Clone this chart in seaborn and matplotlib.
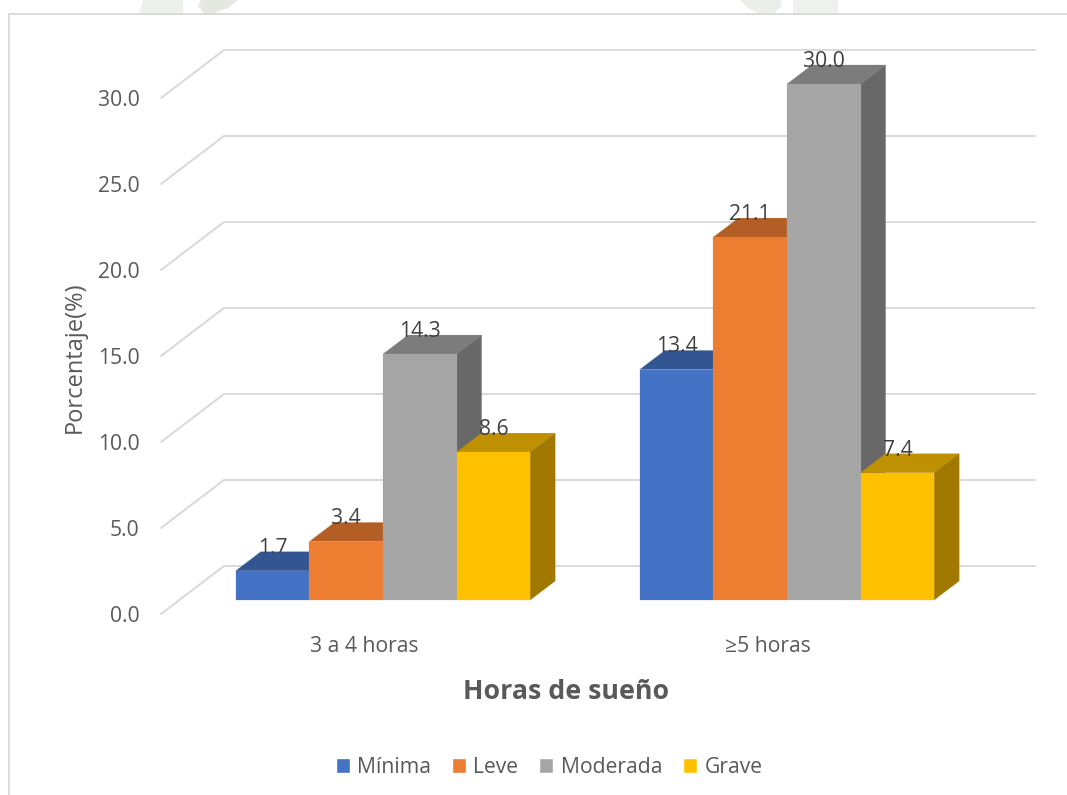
import numpy as np
import pandas as pd
import matplotlib
matplotlib.use("Agg")
import matplotlib.pyplot as plt
from matplotlib.lines import Line2D
from matplotlib.patches import Polygon
from matplotlib.colors import to_rgb
import seaborn as sns

horas = ["3 a 4 horas", "≥5 horas"]
niveles = ["Mínima", "Leve", "Moderada", "Grave"]
minima = [1.7, 13.4]
leve = [3.4, 21.1]
moderada = [14.3, 30.0]
grave = [8.6, 7.4]
yticks = [0, 5, 10, 15, 20, 25, 30]
colores = ["#4472C4", "#ED7D31", "#A5A5A5", "#FFC000"]

df = pd.DataFrame({
    "horas": horas * 4,
    "nivel": [n for n in niveles for _ in horas],
    "pct": minima + leve + moderada + grave,
})

W, H = 1067, 795
sns.set_theme(style="white")
plt.rcParams["font.family"] = ["Open Sans", "DejaVu Sans"]
TXT = "#595959"
GRID = "#D9D9D9"
FS = 15.2

fig = plt.figure(figsize=(W / 100, H / 100), dpi=100, facecolor="white")

def axes_px(left, right, bottom, top):
    return fig.add_axes([left / W, 1 - bottom / H, (right - left) / W, (bottom - top) / H])

# wall axes: carries ticks, category labels and the "3D" gridlines
wall = axes_px(161, 1035, 614, 98)
wall.set_zorder(0)
# bar axes: the front plane of the bars
ax = axes_px(161, 1035, 600, 84)
ax.set_zorder(1)
ax.patch.set_visible(False)

sns.barplot(data=df, x="horas", y="pct", hue="nivel", order=horas, hue_order=niveles,
            palette=colores, saturation=1, width=294.4 / 404, gap=0, dodge=True, ax=ax)
ax.set_xlim((161 - 383) / 404, (1035 - 383) / 404)
ax.set_ylim(0, 30)
ax.set_xlabel("")
ax.set_ylabel("")
ax.set_xticks([])
ax.set_yticks([])
for s in ax.spines.values():
    s.set_visible(False)

# depth of each bar, in data units of the bar axes
dx = 25 / 404
dy = 19 / 17.2

def shade(c, f):
    return tuple(v * f for v in to_rgb(c))

for col, cont in zip(colores, ax.containers):
    for b in cont.patches:
        x0, x1 = b.get_x(), b.get_x() + b.get_width()
        h = b.get_height()
        z = 3 + x0
        b.set_zorder(z + 0.001)
        b.set_edgecolor(col)
        b.set_linewidth(0.15)
        b.set_clip_on(False)
        c_top, c_side = shade(col, 0.75), shade(col, 0.63)
        ax.add_patch(Polygon([(x0, h), (x1, h), (x1 + dx, h + dy), (x0 + dx, h + dy)],
                             closed=True, fc=c_top, ec=c_top, lw=0.15, zorder=z, clip_on=False))
        ax.add_patch(Polygon([(x1, 0), (x1 + dx, dy), (x1 + dx, h + dy), (x1, h)],
                             closed=True, fc=c_side, ec=c_side, lw=0.15, zorder=z, clip_on=False))
    for t in ax.bar_label(cont, fmt="%.1f", padding=8.7, fontsize=FS, color="#404040"):
        t.set_zorder(20)
        t.set_clip_on(False)

# walls
wall.set_xlim((161 - 364) / 404, (1035 - 364) / 404)
wall.set_ylim(0, 30)
back_dx = 63 / 404
back_dy = 48 / 17.2
xl = wall.get_xlim()
for v in yticks:
    wall.plot([xl[0], xl[0] + back_dx, xl[1]], [v, v + back_dy, v + back_dy],
              color=GRID, lw=1.4, clip_on=False, solid_joinstyle="miter", zorder=1)
wall.set_yticks(yticks, [f"{v:.1f}" for v in yticks])
wall.set_xticks([0, 1], horas)
wall.tick_params(axis="y", length=0, pad=15.5, labelsize=FS, labelcolor=TXT)
wall.tick_params(axis="x", length=0, pad=16, labelsize=FS, labelcolor=TXT)
for s in wall.spines.values():
    s.set_visible(False)
wall.patch.set_visible(False)
wall.set_xlabel("Horas de sueño", fontsize=19.25, fontweight="bold", color=TXT)
wall.xaxis.set_label_coords((566 - 161) / (1035 - 161), -(692 - 614) / (614 - 98), transform=wall.transAxes)
wall.xaxis.label.set_va("center")
wall.set_ylabel("Porcentaje(%)", fontsize=17, color=TXT)
wall.yaxis.set_label_coords((75 - 161) / (1035 - 161), (614 - 357) / (614 - 98), transform=wall.transAxes)
wall.yaxis.label.set_va("center")

# legend
handles, labels = ax.get_legend_handles_labels()
ax.legend_.remove() if ax.legend_ else None
fig.legend(handles, labels, ncol=4, frameon=False, loc="center",
           bbox_to_anchor=(549 / W, 1 - 767.5 / H), fontsize=FS,
           labelcolor=TXT, handlelength=0.66, handleheight=0.66,
           handletextpad=0.36, columnspacing=0.98, borderpad=0, borderaxespad=0)

# faint remains of the page watermark above the chart frame
def wm(pts, color):
    fig.add_artist(Polygon([(x / W, 1 - y / H) for x, y in pts], closed=True, fc=color, ec="none",
                           transform=fig.transFigure, zorder=-5))

wm([(143, 0), (183, 0), (183, 13), (139, 13)], "#EEF0EC")
wm([(201, 0), (238, 0), (228, 8), (214, 13), (204, 13), (198, 6)], "#E4E8E1")
wm([(740, 0), (780, 0), (782, 6), (774, 13), (758, 13), (748, 8)], "#ECEEE9")
wm([(793, 0), (838, 0), (838, 13), (793, 13)], "#EFF1EE")

# chart frame (top and left edges visible)
fig.add_artist(Line2D([9 / W, 9 / W, 1], [0, 1 - 14 / H, 1 - 14 / H], color=GRID, lw=1.4,
                      solid_joinstyle="miter", transform=fig.transFigure))

fig.savefig("out.png", dpi=100)
